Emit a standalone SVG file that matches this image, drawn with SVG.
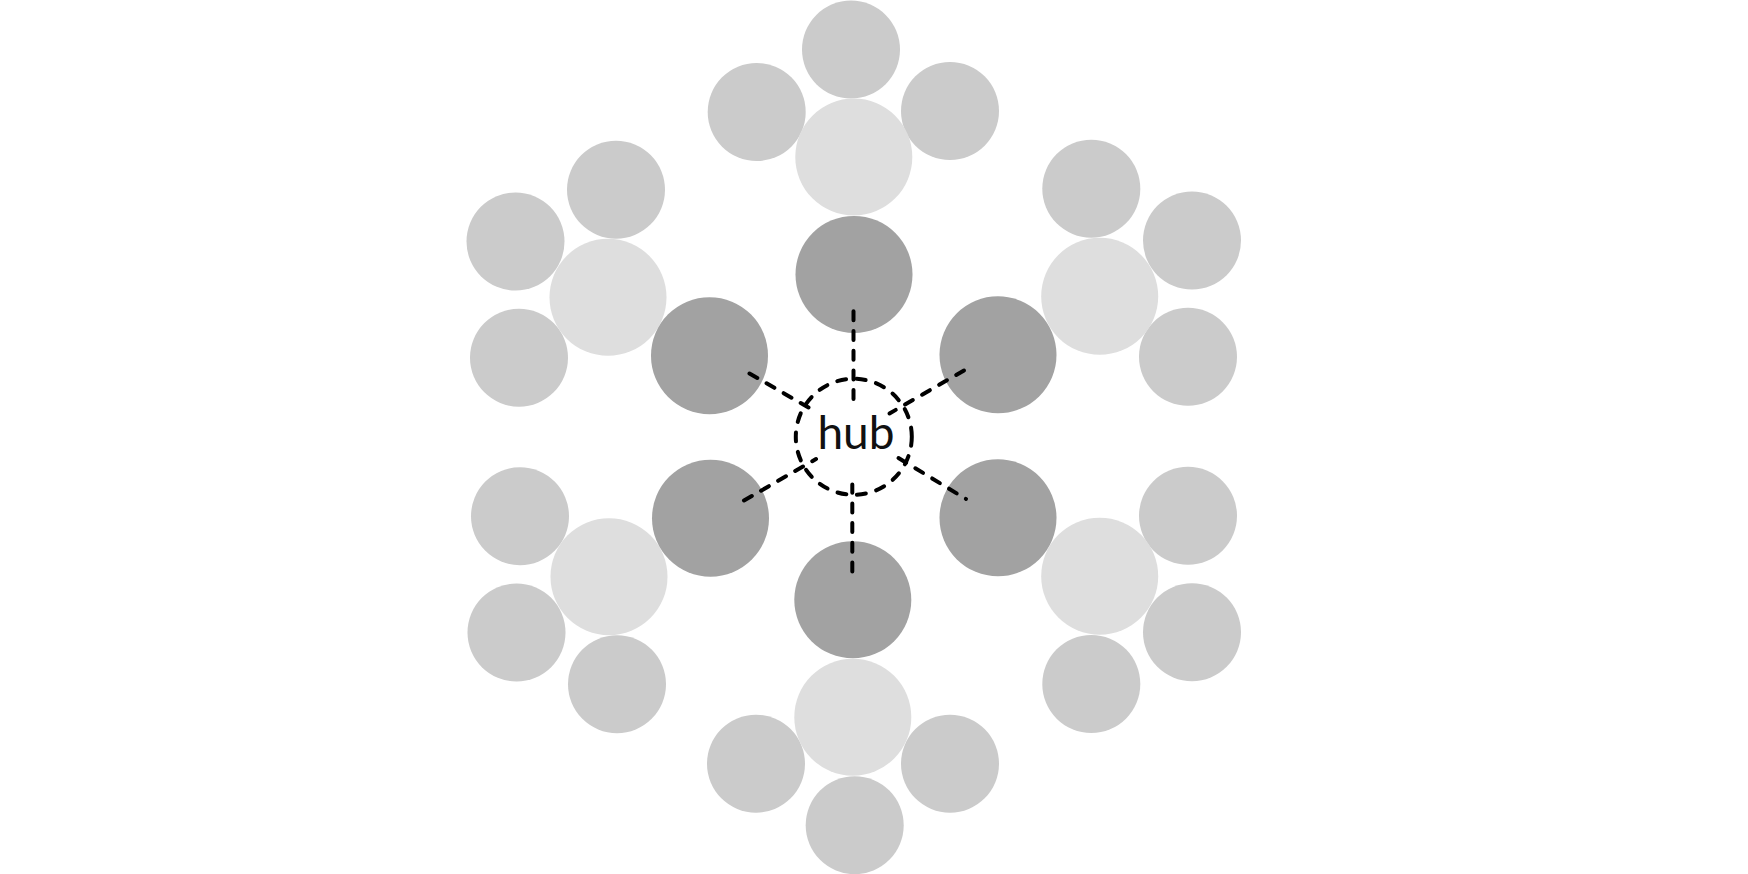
<svg xmlns="http://www.w3.org/2000/svg" width="1748" height="874" viewBox="0 0 1748 874">
<style>
.leaf{fill:#cbcbcb}
.mid{fill:#dedede}
.inner{fill:#a2a2a2}
.hubc{fill:none;stroke:#000;stroke-width:4;stroke-dasharray:9 10.7;stroke-linecap:round}
.link{stroke:#000;stroke-width:4;stroke-dasharray:9 10.7;stroke-linecap:round;fill:none}
.lbl{font-family:Lato,"Open Sans","DejaVu Sans",sans-serif;font-weight:400;font-size:46px;fill:#111}
</style>
<rect width="1748" height="874" fill="#fff"/>
<g id="leaves">
<g id="leaf-t1"><circle class="leaf" cx="851" cy="49.6" r="49"/></g>
<g id="leaf-t2"><circle class="leaf" cx="756.7" cy="112" r="49"/></g>
<g id="leaf-t3"><circle class="leaf" cx="950" cy="111" r="49"/></g>
<g id="leaf-ul1"><circle class="leaf" cx="616" cy="189.7" r="49"/></g>
<g id="leaf-ul2"><circle class="leaf" cx="515.5" cy="241.5" r="49"/></g>
<g id="leaf-ul3"><circle class="leaf" cx="519" cy="357.7" r="49"/></g>
<g id="leaf-ur1"><circle class="leaf" cx="1091.3" cy="188.7" r="49"/></g>
<g id="leaf-ur2"><circle class="leaf" cx="1192" cy="240.5" r="49"/></g>
<g id="leaf-ur3"><circle class="leaf" cx="1188" cy="356.8" r="49"/></g>
<g id="leaf-ll1"><circle class="leaf" cx="520" cy="516.2" r="49"/></g>
<g id="leaf-ll2"><circle class="leaf" cx="516.5" cy="632.5" r="49"/></g>
<g id="leaf-ll3"><circle class="leaf" cx="617" cy="684.2" r="49"/></g>
<g id="leaf-lr1"><circle class="leaf" cx="1188" cy="515.8" r="49"/></g>
<g id="leaf-lr2"><circle class="leaf" cx="1192" cy="632.2" r="49"/></g>
<g id="leaf-lr3"><circle class="leaf" cx="1091.3" cy="684" r="49"/></g>
<g id="leaf-b1"><circle class="leaf" cx="756" cy="763.7" r="49"/></g>
<g id="leaf-b2"><circle class="leaf" cx="950" cy="763.7" r="49"/></g>
<g id="leaf-b3"><circle class="leaf" cx="854.7" cy="825.2" r="49"/></g>
</g>
<g id="mids">
<g id="mid-t"><circle class="mid" cx="853.8" cy="157" r="58.5"/></g>
<g id="mid-ul"><circle class="mid" cx="608" cy="297.3" r="58.5"/></g>
<g id="mid-ur"><circle class="mid" cx="1099.7" cy="296.3" r="58.5"/></g>
<g id="mid-ll"><circle class="mid" cx="609" cy="576.7" r="58.5"/></g>
<g id="mid-lr"><circle class="mid" cx="1099.7" cy="576.2" r="58.5"/></g>
<g id="mid-b"><circle class="mid" cx="852.8" cy="717.2" r="58.5"/></g>
</g>
<g id="inners">
<g id="inner-t"><circle class="inner" cx="854" cy="274.4" r="58.5"/></g>
<g id="inner-ul"><circle class="inner" cx="709.5" cy="355.7" r="58.5"/></g>
<g id="inner-ur"><circle class="inner" cx="998" cy="354.8" r="58.5"/></g>
<g id="inner-ll"><circle class="inner" cx="710.5" cy="518.2" r="58.5"/></g>
<g id="inner-lr"><circle class="inner" cx="998" cy="517.8" r="58.5"/></g>
<g id="inner-b"><circle class="inner" cx="852.8" cy="599.8" r="58.5"/></g>
</g>
<g id="hub">
<circle class="hubc" cx="853.8" cy="436.8" r="58"/>
</g>
<g id="connectors">
<line class="link" x1="853.5" y1="311.3" x2="853.5" y2="399.7"/>
<line class="link" x1="749.5" y1="373.5" x2="812" y2="409.5"/>
<line class="link" x1="964" y1="370.5" x2="889.5" y2="413.5"/>
<line class="link" x1="744" y1="500.5" x2="816" y2="459"/>
<line class="link" x1="898.5" y1="458" x2="966" y2="499"/>
<line class="link" x1="852.3" y1="571.5" x2="852.3" y2="484.5"/>
</g>
<g id="hub-label">
<text class="lbl" x="856" y="448.5" text-anchor="middle">hub</text>
</g>
</svg>
